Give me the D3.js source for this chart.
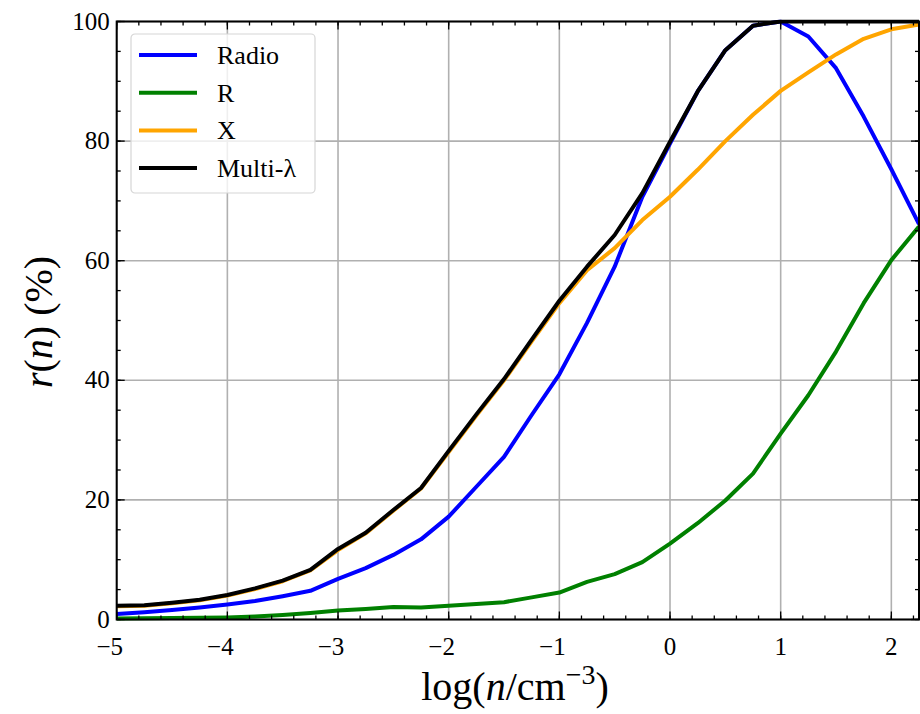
<!DOCTYPE html>
<html>
<head>
<meta charset="utf-8">
<script src="https://cdn.jsdelivr.net/npm/d3@7"></script>
<style>
  body { margin: 0; background: #fff; }
</style>
</head>
<body>
<div id="chart"></div>
<script>
// log density grid (0.25 dex steps)
const logN = [-5, -4.75, -4.5, -4.25, -4, -3.75, -3.5, -3.25, -3, -2.75, -2.5, -2.25, -2, -1.75, -1.5,
  -1.25, -1, -0.75, -0.5, -0.25, 0, 0.25, 0.5, 0.75, 1, 1.25, 1.5, 1.75, 2, 2.25];

// r(n) in percent
const radio = [0.9, 1.2, 1.6, 2.0, 2.5, 3.1, 3.9, 4.8, 6.8, 8.6, 10.8, 13.4, 17.2, 22.2, 27.2,
  34.2, 41.0, 49.6, 59.0, 70.7, 79.6, 88.3, 95.2, 99.3, 100, 97.5, 92.2, 84.1, 75.3, 66.1];
const rBand = [0.15, 0.2, 0.25, 0.3, 0.35, 0.5, 0.75, 1.1, 1.5, 1.75, 2.1, 2.0, 2.3, 2.6, 2.9,
  3.7, 4.5, 6.3, 7.6, 9.6, 12.7, 16.1, 19.9, 24.4, 31.1, 37.5, 44.8, 52.9, 60.1, 65.7];
const xray = [2.2, 2.3, 2.7, 3.2, 4.0, 5.1, 6.4, 8.2, 11.6, 14.4, 18.2, 21.9, 28.0, 34.1, 40.0,
  46.5, 52.9, 58.4, 62.1, 66.8, 70.7, 75.2, 80.0, 84.4, 88.4, 91.5, 94.5, 97.1, 98.7, 99.5];
const multi = [2.3, 2.4, 2.8, 3.3, 4.1, 5.2, 6.5, 8.3, 11.8, 14.5, 18.3, 22.0, 28.2, 34.3, 40.2,
  46.8, 53.3, 59.0, 64.3, 71.3, 79.9, 88.3, 95.2, 99.3, 100, 100, 100, 100, 100, 100];

const seriesNames = ["Radio", "R", "X", "Multi-λ"];
const seriesColors = ["#0000ff", "#008000", "#ffa500", "#000000"];
const seriesValues = [radio, rBand, xray, multi];

const xTicks = [-5, -4, -3, -2, -1, 0, 1, 2];
const yTicks = [0, 20, 40, 60, 80, 100];

const width = 920, height = 714;
const margin = { top: 21.5, right: 1, bottom: 94.5, left: 116.7 };
const innerW = width - margin.left - margin.right;
const innerH = height - margin.top - margin.bottom;
const serif = "Liberation Serif";

const svg = d3.select("#chart").append("svg")
  .attr("width", width)
  .attr("height", height)
  .style("font-family", serif);

const chart = svg.append("g")
  .attr("transform", `translate(${margin.left},${margin.top})`);

const x = d3.scaleLinear().domain([-5, 2.25]).range([0, innerW]);
const y = d3.scaleLinear().domain([0, 100]).range([innerH, 0]);

// grid
chart.append("g").selectAll("line")
  .data(xTicks)
  .join("line")
  .attr("x1", d => x(d)).attr("x2", d => x(d))
  .attr("y1", 0).attr("y2", innerH)
  .attr("stroke", "#b0b0b0").attr("stroke-width", 1.6);
chart.append("g").selectAll("line")
  .data(yTicks)
  .join("line")
  .attr("x1", 0).attr("x2", innerW)
  .attr("y1", d => y(d)).attr("y2", d => y(d))
  .attr("stroke", "#b0b0b0").attr("stroke-width", 1.6);

// lines
const line = d3.line()
  .x((d, i) => x(logN[i]))
  .y(d => y(d));

chart.append("defs").append("clipPath").attr("id", "clip")
  .append("rect").attr("x", -2).attr("y", -2).attr("width", innerW + 4).attr("height", innerH + 4);

chart.append("g").attr("clip-path", "url(#clip)")
  .selectAll("path")
  .data(seriesValues)
  .join("path")
  .attr("d", d => line(d))
  .attr("fill", "none")
  .attr("stroke", (d, i) => seriesColors[i])
  .attr("stroke-width", 4)
  .attr("stroke-linejoin", "round");

// axes with inward ticks on all sides
const fmt = d => d < 0 ? "\u2212" + Math.abs(d) : String(d);
const xMinor = d3.range(-5, 2.25, 0.2).map(v => +v.toFixed(2));
const yMinor = d3.range(0, 100.1, 5);

function tickMarks(g, vals, len, side) {
  g.selectAll(null).data(vals).join("line")
    .attr("stroke", "#000").attr("stroke-width", 1.3)
    .each(function(d) {
      const s = d3.select(this);
      if (side === "bottom") s.attr("x1", x(d)).attr("x2", x(d)).attr("y1", innerH).attr("y2", innerH - len);
      if (side === "top") s.attr("x1", x(d)).attr("x2", x(d)).attr("y1", 0).attr("y2", len);
      if (side === "left") s.attr("x1", 0).attr("x2", len).attr("y1", y(d)).attr("y2", y(d));
      if (side === "right") s.attr("x1", innerW).attr("x2", innerW - len).attr("y1", y(d)).attr("y2", y(d));
    });
}
const ticks = chart.append("g");
["bottom", "top"].forEach(s => { tickMarks(ticks, xTicks, 8, s); tickMarks(ticks, xMinor, 4, s); });
["left", "right"].forEach(s => { tickMarks(ticks, yTicks, 8, s); tickMarks(ticks, yMinor, 4, s); });

chart.append("rect")
  .attr("width", innerW).attr("height", innerH)
  .attr("fill", "none").attr("stroke", "#000").attr("stroke-width", 2);

chart.append("g").selectAll("text")
  .data(xTicks)
  .join("text")
  .attr("x", d => x(d) + (d < 0 ? -7 : 0))
  .attr("y", innerH + 35)
  .attr("text-anchor", "middle")
  .style("font-family", serif)
  .attr("font-size", 25)
  .text(fmt);

chart.append("g").selectAll("text")
  .data(yTicks)
  .join("text")
  .attr("x", -7)
  .attr("y", d => y(d) + 8)
  .attr("text-anchor", "end")
  .style("font-family", serif)
  .attr("font-size", 25)
  .text(fmt);

// axis titles
const xl = svg.append("text")
  .attr("x", 515).attr("y", 700)
  .attr("text-anchor", "middle")
  .style("font-family", serif)
  .attr("font-size", 40);
xl.append("tspan").text("log(");
xl.append("tspan").attr("font-style", "italic").text("n");
xl.append("tspan").text("/cm");
xl.append("tspan").attr("font-size", 28).attr("dy", -16).text("\u22123");
xl.append("tspan").attr("dy", 16).text(")");

const yl = svg.append("text")
  .attr("transform", "translate(52,322) rotate(-90)")
  .attr("text-anchor", "middle")
  .style("font-family", serif)
  .attr("font-size", 40);
yl.append("tspan").attr("font-style", "italic").text("r");
yl.append("tspan").text("(");
yl.append("tspan").attr("font-style", "italic").text("n");
yl.append("tspan").text(") (%)");

// legend
const legend = svg.append("g").attr("transform", "translate(131,34)");
legend.append("rect")
  .attr("width", 184).attr("height", 159)
  .attr("rx", 4)
  .attr("fill", "#fff").attr("fill-opacity", 0.8)
  .attr("stroke", "#d6d6d6").attr("stroke-width", 1.2);
const items = legend.selectAll(".legend-item")
  .data(seriesNames)
  .join("g")
  .attr("class", "legend-item")
  .attr("transform", (d, i) => `translate(0,${21 + i * 37.7})`);
items.append("line")
  .attr("x1", 8).attr("x2", 66)
  .attr("stroke", (d, i) => seriesColors[i])
  .attr("stroke-width", 4);
items.append("text")
  .attr("x", 86).attr("y", 9)
  .style("font-family", serif)
  .attr("font-size", 26)
  .text(d => d);
</script>
</body>
</html>
